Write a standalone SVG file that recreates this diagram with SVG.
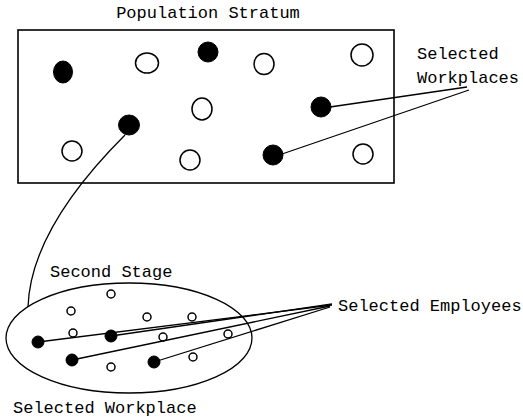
<svg xmlns="http://www.w3.org/2000/svg" width="523" height="420" viewBox="0 0 523 420">
<style>
text{font-family:"Liberation Mono","Courier New",monospace;font-size:17px;fill:#000}
.o{fill:#fff;stroke:#000;stroke-width:1.5}
.f{fill:#000;stroke:#000;stroke-width:1}
.l{fill:none;stroke:#000;stroke-width:1.3}
</style>
<rect width="523" height="420" fill="#fff"/>
<g id="stratum">
<rect x="18" y="30" width="376" height="153" fill="none" stroke="#000" stroke-width="1.6"/>
<text x="208" y="18" text-anchor="middle">Population Stratum</text>
<ellipse class="f" cx="63" cy="72" rx="9.5" ry="11"/>
<ellipse class="o" cx="147" cy="63" rx="11.5" ry="10"/>
<ellipse class="f" cx="208" cy="52" rx="10" ry="10"/>
<ellipse class="o" cx="264" cy="64" rx="10" ry="10.5"/>
<ellipse class="o" cx="362" cy="55" rx="11" ry="11"/>
<ellipse class="o" cx="202" cy="109" rx="10" ry="11"/>
<ellipse class="f" cx="321" cy="107" rx="10" ry="10"/>
<ellipse class="f" cx="129" cy="125" rx="10.5" ry="10"/>
<ellipse class="o" cx="72" cy="151" rx="10" ry="10"/>
<ellipse class="o" cx="190" cy="160" rx="10" ry="10"/>
<ellipse class="f" cx="273" cy="155" rx="10" ry="10"/>
<ellipse class="o" cx="363" cy="154" rx="10" ry="10"/>
</g>
<g id="label-workplaces">
<text x="417" y="59">Selected</text>
<text x="417" y="83">Workplaces</text>
</g>
<g id="second-stage">
<ellipse cx="129" cy="338" rx="123" ry="55" fill="none" stroke="#000" stroke-width="1.3"/>
<text x="50" y="277">Second Stage</text>
<circle class="o" cx="111" cy="294" r="4"/>
<circle class="o" cx="71" cy="311" r="4"/>
<circle class="o" cx="147" cy="317" r="4"/>
<circle class="o" cx="192" cy="317" r="4"/>
<circle class="o" cx="73" cy="333" r="4"/>
<circle class="o" cx="163" cy="337" r="4"/>
<circle class="o" cx="228" cy="334" r="4"/>
<circle class="o" cx="111" cy="367" r="4"/>
<circle class="o" cx="193" cy="357" r="4"/>
</g>
<g id="label-employees">
<text x="338" y="311">Selected Employees</text>
</g>
<g id="label-workplace">
<text x="13" y="413">Selected Workplace</text>
</g>
<g id="connectors">
<line class="l" x1="330" y1="107" x2="467" y2="87"/>
<line class="l" x1="282" y1="154" x2="469" y2="90"/>
<path class="l" d="M125,135 C75,185 30,245 28,307"/>
<line class="l" x1="38" y1="342" x2="332" y2="305"/>
<line class="l" x1="111" y1="336" x2="332" y2="304"/>
<line class="l" x1="72" y1="360" x2="330" y2="306"/>
<line class="l" x1="154" y1="362" x2="330" y2="307"/>
</g>
<g id="employees">
<circle class="f" cx="111" cy="336" r="6"/>
<circle class="f" cx="38" cy="342" r="6"/>
<circle class="f" cx="72" cy="360" r="6"/>
<circle class="f" cx="154" cy="362" r="6"/>
</g>
</svg>
